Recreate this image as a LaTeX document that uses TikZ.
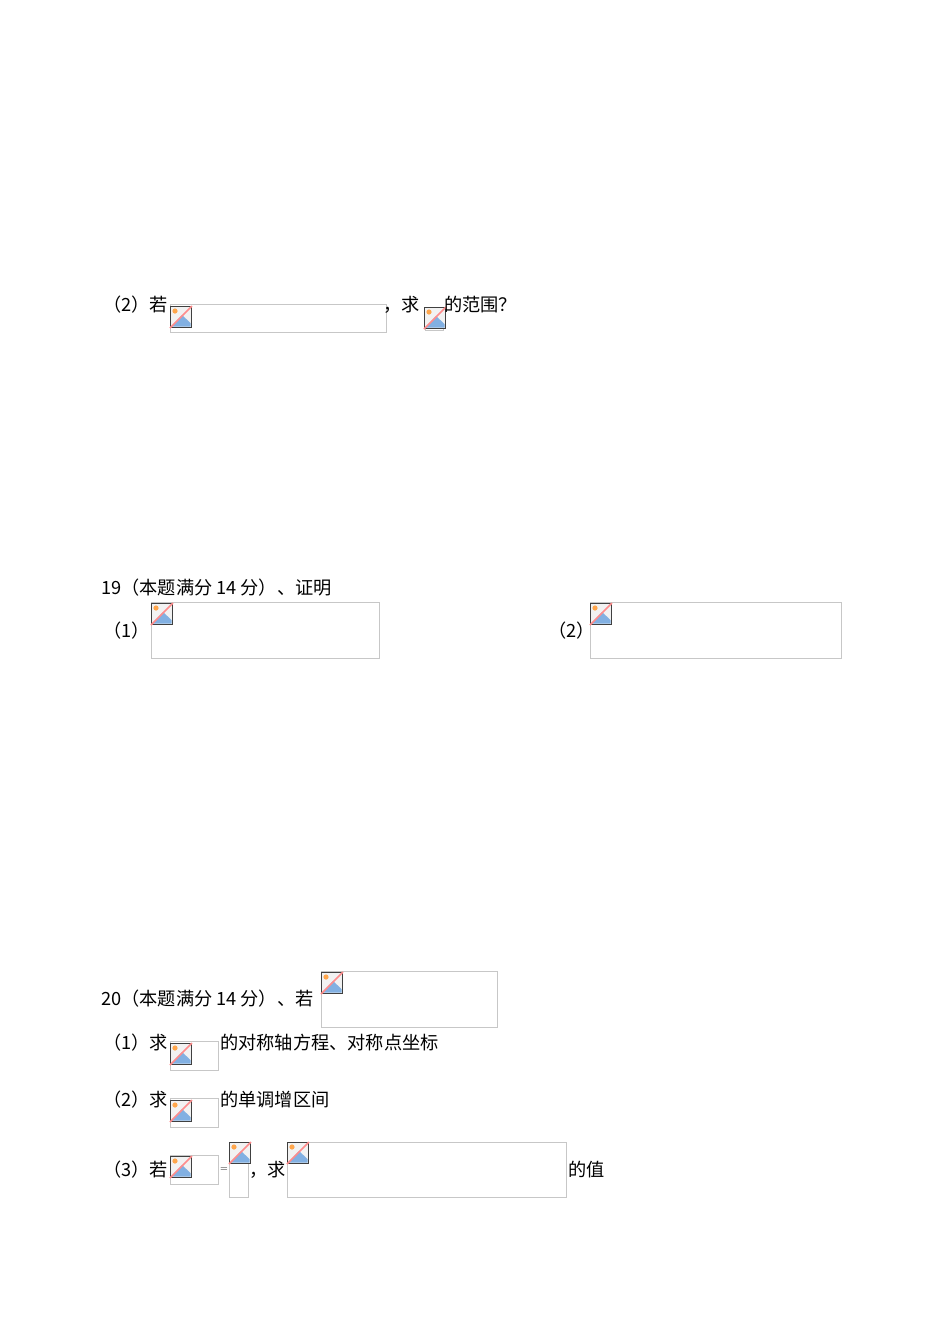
\documentclass[tikz,border=0pt]{standalone}
\usepackage{fontspec}
\newfontfamily\cjk{Noto Sans CJK SC}
\begin{document}
\begin{tikzpicture}[x=1pt,y=-1pt,
  txt/.style={anchor=west,inner sep=0pt,font=\cjk\fontsize{18.2}{18}\selectfont},
  frame/.style={draw=black!22,line width=0.8pt}]
\useasboundingbox[fill=white] (0,0) rectangle (950,1342);
\newcommand\bimg[2]{%
  \begin{scope}[shift={(#1,#2)}]
   \fill[black!5] (0,0) rectangle (22,22);
   \fill[orange!70] (5,5) circle (2.6);
   \fill[cyan!60!blue!50] (1.5,20.5) -- (12,9) -- (20.5,17) -- (20.5,20.5) -- cycle;
   \draw[black!75,line width=1pt] (0.5,0.5) rectangle (21.5,21.5);
   \draw[red!45,line width=1.6pt] (0,22) -- (22,0);
  \end{scope}}
% (2)
\node[txt] (t1) at (103,305) {（2）若};
\draw[frame] (170,304) rectangle (386,332);
\bimg{170}{306}
\node[txt] (t2) at (383,305) {，求};
\draw[frame] (425,307) rectangle (443,330);
\bimg{424}{307}
\node[txt] (t3) at (444,305) {的范围？};
% 19
\node[txt] (t4) at (101,588) {19（本题满分 14 分）、证明};
\node[txt] (t5) at (103,631) {（1）};
\draw[frame] (151,602) rectangle (379,658);
\bimg{151}{603}
\node[txt] (t6) at (548,631) {（2）};
\draw[frame] (590,602) rectangle (841,658);
\bimg{590}{603}
% 20
\node[txt] (t7) at (101,999) {20（本题满分 14 分）、若};
\draw[frame] (321,971) rectangle (497,1027);
\bimg{321}{972}
\node[txt] (t8) at (103,1043) {（1）求};
\draw[frame] (170,1041) rectangle (218,1070);
\bimg{170}{1043}
\node[txt] (t9) at (220,1043) {的对称轴方程、对称点坐标};
\node[txt] (t10) at (103,1100) {（2）求};
\draw[frame] (170,1098) rectangle (218,1127);
\bimg{170}{1100}
\node[txt] (t11) at (220,1100) {的单调增区间};
\node[txt] (t12) at (103,1170) {（3）若};
\draw[frame] (170,1155) rectangle (218,1184);
\bimg{170}{1156}
\node[txt,font=\fontsize{10}{10}\selectfont] (eq) at (220,1170) {=};
\draw[frame] (229,1142) rectangle (248,1197);
\bimg{229}{1142}
\node[txt] (t13) at (249,1170) {，求};
\draw[frame] (287,1142) rectangle (566,1197);
\bimg{287}{1142}
\node[txt] (t14) at (568,1170) {的值};
\end{tikzpicture}
\end{document}
